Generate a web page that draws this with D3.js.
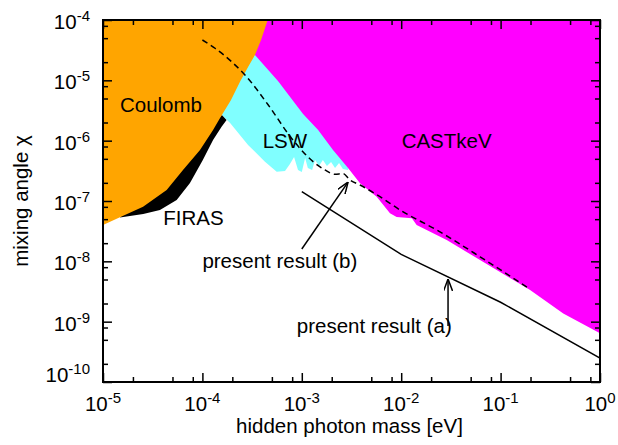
<!DOCTYPE html>
<html>
<head>
<meta charset="utf-8">
<script src="https://cdn.jsdelivr.net/npm/d3@7"></script>
<style>
body{margin:0;background:#fff}
svg text{font-family:"Liberation Sans",Arial,Helvetica,sans-serif;fill:#000}
</style>
</head>
<body>
<svg id="chart" width="618" height="445"></svg>
<script>
// tick decades
const xTicks=[1e-5,1e-4,1e-3,1e-2,1e-1,1];
const xTickExp=[-5,-4,-3,-2,-1,0];
const yTicks=[1e-10,1e-9,1e-8,1e-7,1e-6,1e-5,1e-4];
const yTickExp=[-10,-9,-8,-7,-6,-5,-4];
const minorSteps=[2,5,8];

// Coulomb bound (orange), lower/right edge
const coulombMass=[1e-5,1.48e-5,2.53e-5,4.37e-5,6.38e-5,9.46e-5,1.28e-4,1.50e-4,1.57e-4,1.94e-4,2.39e-4,2.88e-4,3.38e-4,3.89e-4,4.54e-4];
const coulombChi=[4.0e-8,5.37e-8,8.04e-8,1.52e-7,3.27e-7,7.0e-7,1.5e-6,2.35e-6,2.66e-6,4.72e-6,9.5e-6,1.66e-5,2.63e-5,4.66e-5,1e-4];

// FIRAS (black), lower edge, ends on the Coulomb edge
const firasMass=[1.48e-5,2.54e-5,3.74e-5,5.51e-5,7.5e-5,1.01e-4,1.28e-4,1.56e-4,1.75e-4,1.57e-4];
const firasChi=[5.32e-8,6.08e-8,7.1e-8,1.04e-7,1.99e-7,4.78e-7,1.03e-6,1.7e-6,2.2e-6,2.66e-6];

// LSW (cyan), lower edge with the resonance spikes
const lswMass=[1.57e-4,1.90e-4,2.88e-4,4.26e-4,5.59e-4,6.78e-4,7.6e-4,8.36e-4,9.16e-4,1.0e-3,1.08e-3,1.15e-3,1.27e-3,1.36e-3,1.49e-3,1.63e-3,1.79e-3,1.97e-3,2.16e-3,2.37e-3,2.59e-3,2.92e-3,3.5e-3,5e-3];
const lswChi=[2.66e-6,1.96e-6,8.5e-7,4.48e-7,3.06e-7,3.14e-7,4.1e-7,5.36e-7,3.27e-7,3.02e-7,5.16e-7,3.52e-7,3.27e-7,4.78e-7,3.8e-7,4.78e-7,3.8e-7,4.43e-7,3.52e-7,4.26e-7,3.4e-7,3.27e-7,1e-6,1e-4];

// CAST keV (magenta), lower edge
const castMass=[3.38e-4,5.76e-4,1.03e-3,1.46e-3,2.06e-3,2.92e-3,3.85e-3,5.67e-3,7.71e-3,9.0e-3,1.28e-2,1.43e-2,2.87e-2,6.21e-2,0.198,0.427,1];
const castChi=[2.63e-5,9.75e-6,2.77e-6,1.5e-6,7.0e-7,3.52e-7,1.96e-7,1.18e-7,6.25e-8,5.43e-8,5.16e-8,4.0e-8,2.26e-8,1.05e-8,3.35e-9,1.37e-9,6.4e-10];

// present result (b), dashed
const resBMass=[1e-4,1.34e-4,2.03e-4,2.68e-4,4.6e-4,7.91e-4,1.36e-3,1.71e-3,2.16e-3,2.59e-3,3.05e-3,3.85e-3,6.12e-3,9.73e-3,2.28e-2,6.21e-2,0.198];
const resBChi=[4.66e-5,3.4e-5,1.94e-5,1.23e-5,3.9e-6,1.09e-6,4.22e-7,3.27e-7,2.77e-7,2.86e-7,2.23e-7,1.84e-7,1.18e-7,7.1e-8,3.3e-8,1.19e-8,3.44e-9];

// present result (a), solid
const resAMass=[1e-3,1e-2,0.1,1];
const resAChi=[1.43e-7,1.3e-8,2.1e-9,2.5e-10];

// text labels (data coords of text start / baseline)
const labelText=["Coulomb","FIRAS","LSW","CASTkeV","present result (b)","present result (a)"];
const labelMass=[1.48e-5,4.04e-5,4.04e-4,1.01e-2,1.0e-4,8.9e-4];
const labelChi=[2.99e-6,4.0e-8,7.64e-7,7.7e-7,7.75e-9,6.5e-10];

// arrows: from -> to
const arrowFromMass=[1.0e-3,2.96e-2];
const arrowFromChi=[1.6e-8,8.5e-10];
const arrowToMass=[2.92e-3,2.96e-2];
const arrowToChi=[2.06e-7,5.1e-9];

class Plot{
    constructor(){
        this.svg=d3.select("#chart");
        this.left=103; this.right=600; this.top=20; this.bottom=382;
        this.x=d3.scaleLog().domain([1e-5,1]).range([this.left,this.right]);
        this.y=d3.scaleLog().domain([1e-10,1e-4]).range([this.bottom,this.top]);
        this.font=20.5;

        this.svg.append("clipPath").attr("id","clip")
            .append("rect")
            .attr("x",this.left).attr("y",this.top)
            .attr("width",this.right-this.left).attr("height",this.bottom-this.top);

        let mk=this.svg.append("defs").append("marker")
            .attr("id","head")
            .attr("viewBox","0 0 12 9")
            .attr("refX",12).attr("refY",4.5)
            .attr("markerWidth",12).attr("markerHeight",9)
            .attr("markerUnits","userSpaceOnUse")
            .attr("orient","auto");
        mk.append("path").attr("d","M0,0L12,4.5L0,9")
            .attr("fill","none").attr("stroke","#000").attr("stroke-width",1.5);

        this.plotG=this.svg.append("g").attr("clip-path","url(#clip)");
        this.drawRegions();
        this.drawLines();
        this.drawAxes();
        this.drawLabels();
    }

    pts(ms,cs){ return ms.map((m,i)=>[this.x(m),this.y(cs[i])]); }

    // area above a bound curve, closed along the top of the frame
    above(ms,cs){
        let top=this.y.domain()[1];
        let p=this.pts(ms,cs);
        p.push([this.x(ms[ms.length-1]),this.y(top)]);
        p.push([this.x(ms[0]),this.y(top)]);
        return p;
    }

    drawRegions(){
        let line=d3.line();
        let regions=[
            {p:this.above(lswMass,lswChi),c:"#80ffff"},
            {p:this.above(castMass,castChi),c:"#ff00ff"},
            {p:this.pts(firasMass,firasChi),c:"#000000"},
            {p:this.above(coulombMass,coulombChi),c:"#ffa500"}
        ];
        this.plotG.selectAll("path.region")
            .data(regions)
            .join("path")
            .attr("class","region")
            .attr("d",d=>line(d.p)+"Z")
            .attr("fill",d=>d.c)
            .attr("stroke","none");
    }

    drawLines(){
        this.plotG.append("path")
            .attr("d",d3.line().curve(d3.curveMonotoneX)(this.pts(resBMass,resBChi)))
            .attr("fill","none").attr("stroke","#000")
            .attr("stroke-width",1.5).attr("stroke-dasharray","6,4");
        this.plotG.append("path")
            .attr("d",d3.line()(this.pts(resAMass,resAChi)))
            .attr("fill","none").attr("stroke","#000").attr("stroke-width",1.5);

        this.svg.selectAll("line.arrow")
            .data(arrowFromMass.map((m,i)=>i))
            .join("line")
            .attr("class","arrow")
            .attr("x1",i=>this.x(arrowFromMass[i])).attr("y1",i=>this.y(arrowFromChi[i]))
            .attr("x2",i=>this.x(arrowToMass[i])).attr("y2",i=>this.y(arrowToChi[i]))
            .attr("stroke","#000").attr("stroke-width",1.5)
            .attr("marker-end","url(#head)");
    }

    drawAxes(){
        let xMinor=[], yMinor=[];
        xTicks.slice(0,-1).forEach(d=>minorSteps.forEach(k=>xMinor.push(d*k)));
        yTicks.slice(0,-1).forEach(d=>minorSteps.forEach(k=>yMinor.push(d*k)));

        let axes=[
            [d3.axisBottom(this.x),`translate(0,${this.bottom})`,xTicks,xMinor],
            [d3.axisTop(this.x),`translate(0,${this.top})`,xTicks,xMinor],
            [d3.axisLeft(this.y),`translate(${this.left},0)`,yTicks,yMinor],
            [d3.axisRight(this.y),`translate(${this.right},0)`,yTicks,yMinor]
        ];
        axes.forEach(([ax,tr,major,minor])=>{
            [[major,-9],[minor,-5]].forEach(([vals,len])=>{
                this.svg.append("g").attr("transform",tr)
                    .call(ax.tickValues(vals).tickSize(len).tickFormat(""))
                    .call(g=>g.select(".domain").remove())
                    .call(g=>g.selectAll("line").attr("stroke-width",1.5));
            });
        });

        this.svg.append("rect")
            .attr("x",this.left).attr("y",this.top)
            .attr("width",this.right-this.left).attr("height",this.bottom-this.top)
            .attr("fill","none").attr("stroke","#000").attr("stroke-width",2);

        // tick labels 10^n
        let xl=this.svg.append("g").selectAll("text")
            .data(xTicks)
            .join("text")
            .attr("x",d=>this.x(d)).attr("y",this.bottom+29)
            .attr("text-anchor","middle")
            .attr("font-size",this.font);
        xl.append("tspan").text("10");
        xl.append("tspan").attr("dy",-8).attr("font-size",15).text((d,i)=>xTickExp[i]);

        let yl=this.svg.append("g").selectAll("text")
            .data(yTicks)
            .join("text")
            .attr("x",this.left-13)
            .attr("y",(d,i)=>this.y(d)+(i===0?0:9))
            .attr("text-anchor","end")
            .attr("font-size",this.font);
        yl.append("tspan").text("10");
        yl.append("tspan").attr("dy",-8).attr("font-size",15).text((d,i)=>yTickExp[i]);

        this.svg.append("text")
            .attr("x",(this.left+this.right)/2-2).attr("y",433)
            .attr("text-anchor","middle").attr("font-size",this.font)
            .text("hidden photon mass [eV]");
        this.svg.append("text")
            .attr("transform",`translate(28,${(this.top+this.bottom)/2})rotate(-90)`)
            .attr("text-anchor","middle").attr("font-size",this.font)
            .text("mixing angle χ");
    }

    drawLabels(){
        this.svg.append("g").selectAll("text")
            .data(labelText)
            .join("text")
            .attr("x",(d,i)=>this.x(labelMass[i]))
            .attr("y",(d,i)=>this.y(labelChi[i]))
            .attr("font-size",this.font)
            .text(d=>d);
    }
}

new Plot();
</script>
</body>
</html>
